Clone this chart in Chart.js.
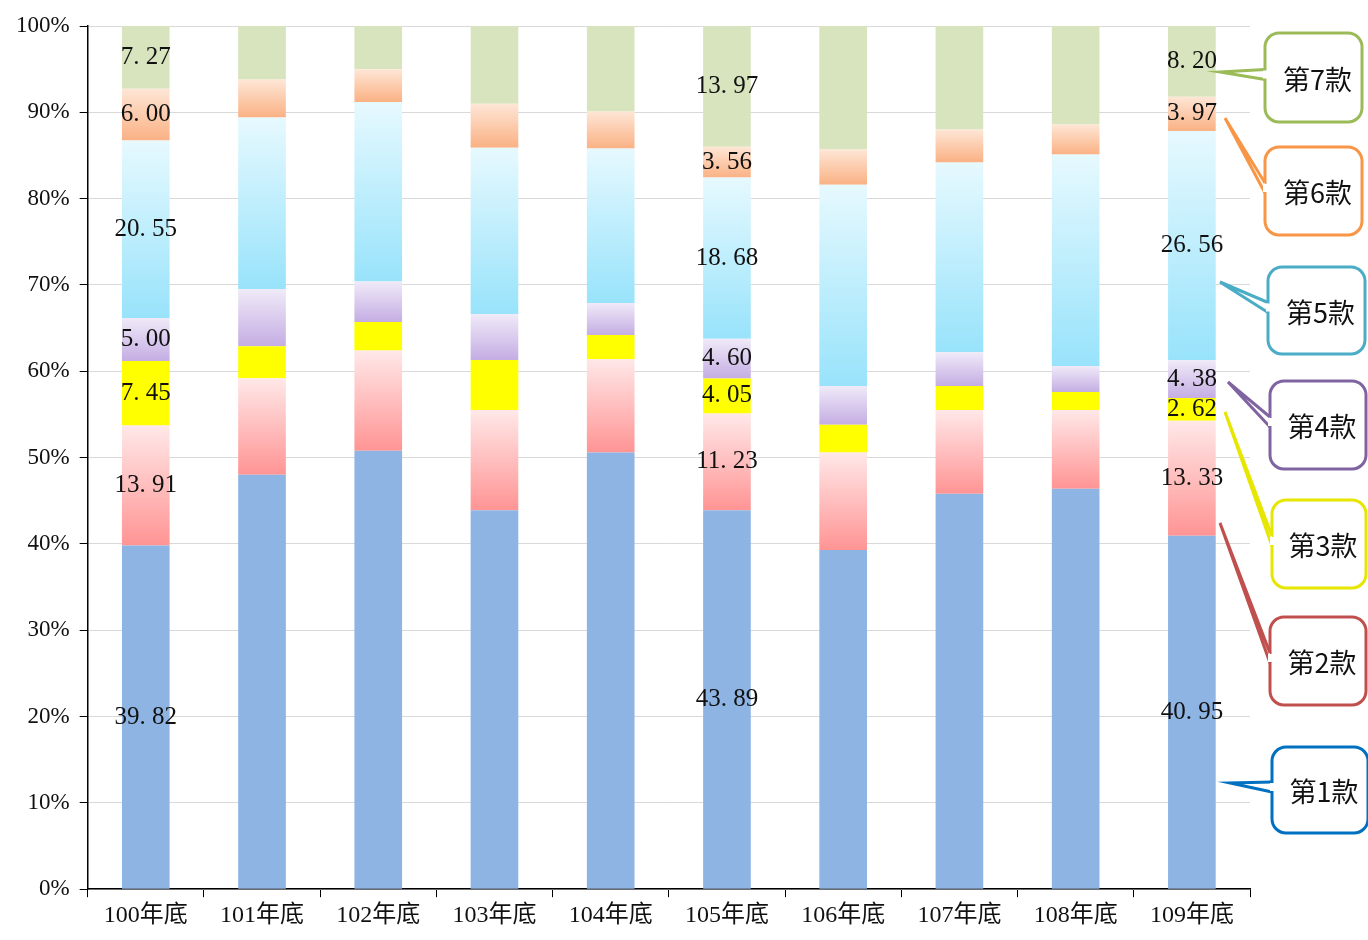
<!DOCTYPE html>
<html><head><meta charset="utf-8">
<script src="https://cdn.jsdelivr.net/npm/chart.js@4"></script>
<style>body{margin:0;background:#fff}#wrap{width:1368px;height:940px}</style>
</head><body><div id="wrap"><canvas id="c"></canvas></div>
<script>
const categories = ['100年底','101年底','102年底','103年底','104年底','105年底','106年底','107年底','108年底','109年底'];
const seriesNames = ['第1款','第2款','第3款','第4款','第5款','第6款','第7款'];
const k1 = [39.82, 48.0, 50.8, 43.9, 50.6, 43.89, 39.3, 45.8, 46.4, 40.95];
const k2 = [13.91, 11.2, 11.6, 11.6, 10.8, 11.23, 11.3, 9.7, 9.1, 13.33];
const k3 = [7.45, 3.7, 3.3, 5.8, 2.8, 4.05, 3.2, 2.8, 2.1, 2.62];
const k4 = [5.00, 6.6, 4.7, 5.3, 3.7, 4.60, 4.5, 3.9, 3.0, 4.38];
const k5 = [20.55, 19.9, 20.8, 19.3, 17.9, 18.68, 23.3, 22.0, 24.5, 26.56];
const k6 = [6.00, 4.4, 3.8, 5.1, 4.3, 3.56, 4.1, 3.8, 3.5, 3.97];
const k7 = [7.27, 6.2, 5.0, 9.0, 9.9, 13.97, 14.3, 12.0, 11.4, 8.20];
const series = [k1, k2, k3, k4, k5, k6, k7];
const labelled = [0, 5, 9];

// [bottom colour, top colour] per series
const fills = [
  ['#8EB4E3','#8EB4E3'], ['#FF9494','#FFE8E8'], ['#FFFF00','#FFFF00'],
  ['#C4ADE3','#F0EAF8'], ['#98E3FB','#E6F9FE'], ['#FAB184','#FEE6D6'], ['#D7E4BD','#D7E4BD']
];
const bubbles = [
  {text:'第1款', color:'#0070C0', x:1272, y:747, w:96, h:86, tip:[1230,783]},
  {text:'第2款', color:'#C0504D', x:1270, y:617, w:96, h:88, tip:[1220,523]},
  {text:'第3款', color:'#E6E600', x:1272, y:500, w:94, h:88, tip:[1225,412]},
  {text:'第4款', color:'#8064A2', x:1270, y:381, w:96, h:88, tip:[1228,382]},
  {text:'第5款', color:'#4BACC6', x:1268, y:267, w:97, h:87, tip:[1220,282]},
  {text:'第6款', color:'#F79646', x:1265, y:147, w:97, h:88, tip:[1225,118]},
  {text:'第7款', color:'#9BBB59', x:1265, y:33, w:97, h:89, tip:[1220,72]}
];

function grad(i) {
  return ctx => {
    const y = ctx.chart.scales && ctx.chart.scales.y;
    if (!y || ctx.dataIndex === undefined || fills[i][0] === fills[i][1]) return fills[i][0];
    let base = 0;
    for (let s = 0; s < i; s++) base += series[s][ctx.dataIndex];
    const bot = y.getPixelForValue(base), top = y.getPixelForValue(base + series[i][ctx.dataIndex]);
    if (!isFinite(top) || !isFinite(bot) || top === bot) return fills[i][0];
    const g = ctx.chart.ctx.createLinearGradient(0, bot, 0, top);
    g.addColorStop(0, fills[i][0]); g.addColorStop(1, fills[i][1]);
    return g;
  };
}

const labelPlugin = {
  id: 'labels',
  afterDatasetsDraw(chart) {
    const c = chart.ctx;
    c.save();
    c.font = '25px "Liberation Serif", "DejaVu Serif", serif';
    c.fillStyle = '#111'; c.textAlign = 'center'; c.textBaseline = 'middle';
    chart.data.datasets.forEach((ds, di) => {
      const meta = chart.getDatasetMeta(di);
      labelled.forEach(j => {
        const el = meta.data[j];
        c.fillText(ds.data[j].toFixed(2).replace('.', '. '), el.x, (el.y + el.base) / 2);
      });
    });
    // callout bubbles
    c.lineWidth = 3;
    bubbles.forEach(b => {
      const my = b.y + b.h / 2;
      c.strokeStyle = b.color; c.fillStyle = '#fff';
      c.beginPath();
      c.roundRect(b.x, b.y, b.w, b.h, 14);
      c.fill(); c.stroke();
      c.beginPath();
      c.moveTo(b.x, my - 8); c.lineTo(b.tip[0], b.tip[1]); c.lineTo(b.x, my + 2);
      c.fillStyle = '#fff'; c.fill(); c.stroke();
      c.fillRect(b.x - 2, my - 7, 5, 8);
      c.fillStyle = '#111';
      c.font = '27px "Noto Sans CJK TC", serif';
      c.fillText(b.text, b.x + b.w / 2 + 4, my + 2);
    });
    c.restore();
  }
};

const ds = series.map((d, i) => ({
  label: seriesNames[i], data: d, backgroundColor: grad(i),
  barPercentage: 0.41, categoryPercentage: 1
}));

new Chart(document.getElementById('c'), {
  type: 'bar',
  data: { labels: categories, datasets: ds },
  options: {
    responsive: true, maintainAspectRatio: false, animation: false,
    layout: { padding: { top: 26, right: 118, left: 6, bottom: 6 } },
    plugins: { legend: { display: false }, tooltip: { enabled: false } },
    scales: {
      x: {
        stacked: true,
        grid: { offset: true, drawOnChartArea: false, color: '#000', tickLength: 8 },
        border: { color: '#000', width: 1.5 },
        ticks: { color: '#111', padding: 4, font: { size: 24, family: '"Liberation Serif", "Noto Sans CJK TC", serif' } }
      },
      y: {
        stacked: true, min: 0, max: 100,
        grid: { color: '#d9d9d9', tickLength: 8, tickColor: '#000' },
        border: { color: '#000', width: 1.5 },
        ticks: { stepSize: 10, color: '#111', padding: 10, callback: v => v + '%',
                 font: { size: 23, family: '"Liberation Serif", serif' } }
      }
    }
  },
  plugins: [labelPlugin]
});
</script></body></html>
